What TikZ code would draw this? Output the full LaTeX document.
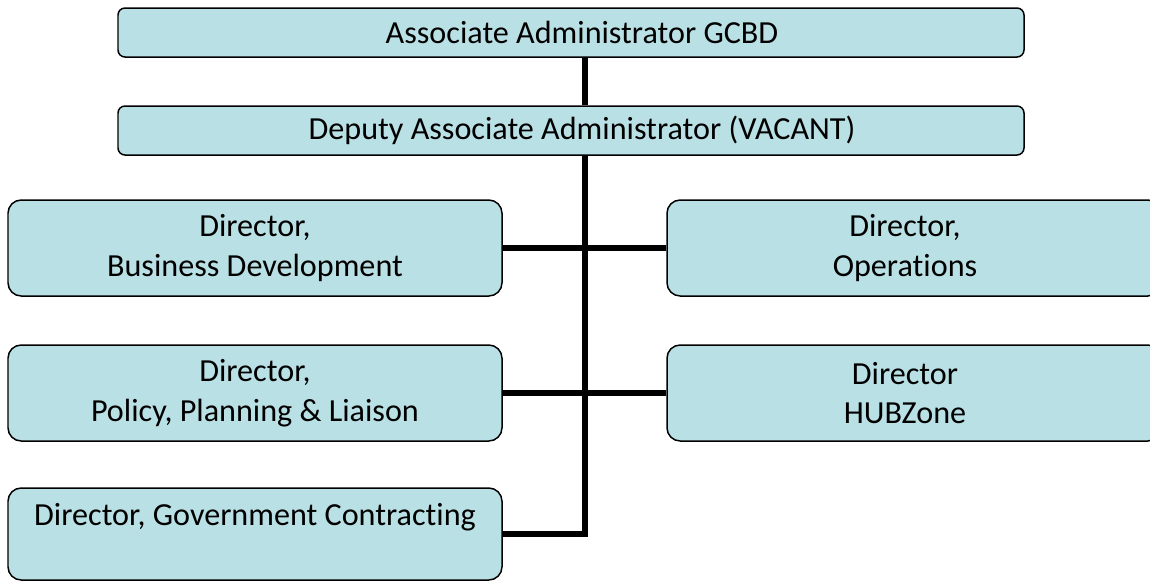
\documentclass[tikz,border=0pt]{standalone}
\usepackage{fontspec}
\setmainfont[Ligatures=NoCommon]{Carlito}
\usepackage{tikz}
\usetikzlibrary{calc}
\definecolor{boxblue}{RGB}{185,224,228}
\tikzstyle{every node} = [inner sep=3pt, font=\fontsize{18.3}{22.7}\selectfont]
\tikzstyle{topunit} = [draw=black, line width=0.85pt, fill=boxblue, rounded corners=4pt, minimum width=906*0.02cm, minimum height=49*0.02cm]
\tikzstyle{unit} = [draw=black, line width=0.85pt, fill=boxblue, rounded corners=7.5pt, align=center, minimum width=494*0.02cm, minimum height=96*0.02cm]
\tikzstyle{link} = [line width=3pt]
\newcommand{\lft}{\hspace*{-0.36cm}}

\begin{document}
\begin{tikzpicture}[x=0.02cm, y=-0.02cm]
        \clip (0,0) rectangle (1150,582);
        \fill[white] (0,0) rectangle (1150,582);

        \node[topunit] (aa) at (571,32.5) {\hspace*{0.44cm}Associate Administrator GCBD};
        \node[topunit] (daa) at (571,130.5) {\hspace*{0.44cm}Deputy Associate Administrator (VACANT)};

        \node[unit] (bd) at (255,248) {Director,\\Business Development};
        \node[unit] (ops) at (914,248) {\lft Director,\\\lft Operations};
        \node[unit] (ppl) at (255,393) {Director,\\Policy, Planning \& Liaison};
        \node[unit] (hub) at (914,393) {\lft Director\\\lft HUBZone};
        \node[unit, minimum height=92*0.02cm] (gc) at (255,534) {Director, Government Contracting\\ ~};

        \coordinate (trunk) at (585,0);

        \draw[link] (aa.south -| trunk) -- (daa.north -| trunk);
        \draw[link] (daa.south -| trunk) |- (gc.east);
        \draw[link] (bd.east) -- (ops.west);
        \draw[link] (ppl.east) -- (hub.west);
    \end{tikzpicture}
\end{document}
